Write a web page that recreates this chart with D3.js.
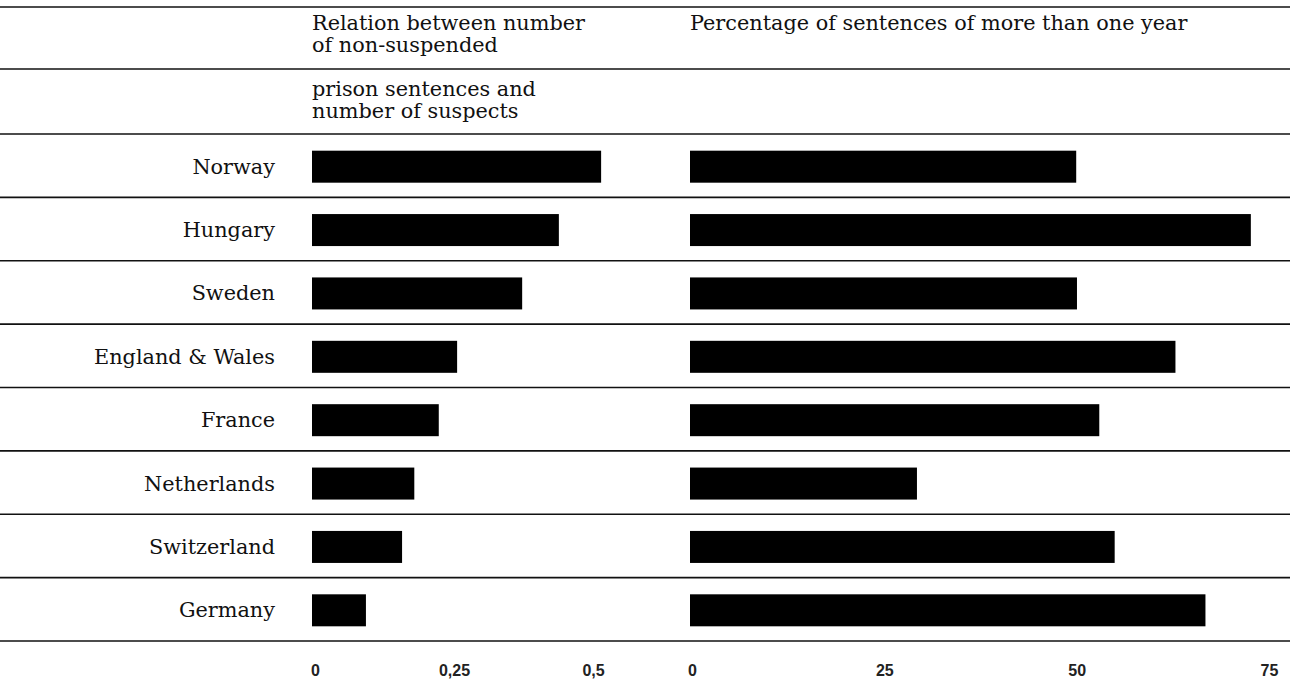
<!DOCTYPE html>
<html>
<head>
<meta charset="utf-8">
<script src="https://cdn.jsdelivr.net/npm/d3@7"></script>
<style>
  body { margin: 0; background: #fff; }
  svg { display: block; }
  .lbl { font-family: "DejaVu Serif", serif; font-size: 20.8px; fill: #111; }
</style>
</head>
<body>
<svg id="chart" width="1298" height="685"></svg>
<script>
const countries = ["Norway", "Hungary", "Sweden", "England & Wales", "France", "Netherlands", "Switzerland", "Germany"];
const ratioValues = [0.52, 0.444, 0.378, 0.261, 0.228, 0.184, 0.162, 0.097];
const longSentencePct = [50.2, 72.9, 50.3, 63.1, 53.2, 29.5, 55.2, 67.0];
const ratioTicks = [0, 0.25, 0.5];
const pctTicks = [0, 25, 50, 75];
const ratioTitle = ["Relation between number", "of non-suspended", "prison sentences and", "number of suspects"];
const pctTitle = "Percentage of sentences of more than one year";

const svg = d3.select("#chart");
const lineEnd = 1290;

const y = d3.scaleBand()
  .domain(countries)
  .range([134, 641]);

const xL = d3.scaleLinear().domain([0, 0.5]).range([312, 590]);
const xR = d3.scaleLinear().domain([0, 75]).range([690, 1267]);

const barH = 32;

/* ------------------ rules ------------------ */

const ruleYs = [7, 69, ...countries.map(c => y(c)), y.range()[1]];

svg.append("g")
  .selectAll("line")
  .data(ruleYs)
  .join("line")
  .attr("x1", 0)
  .attr("x2", lineEnd)
  .attr("y1", d => d)
  .attr("y2", d => d)
  .attr("stroke", "#111")
  .attr("stroke-width", 1.6);

/* ------------------ headers ------------------ */

const hdr = svg.append("g");
[30, 52].forEach((by, i) =>
  hdr.append("text").attr("class", "lbl")
    .attr("x", xL(0)).attr("y", by).text(ratioTitle[i])
);
[96, 118].forEach((by, i) =>
  hdr.append("text").attr("class", "lbl")
    .attr("x", xL(0)).attr("y", by).text(ratioTitle[i + 2])
);
hdr.append("text").attr("class", "lbl")
  .attr("x", xR(0)).attr("y", 30).text(pctTitle);

/* ------------------ row labels ------------------ */

svg.append("g")
  .selectAll("text")
  .data(countries)
  .join("text")
  .attr("class", "lbl")
  .attr("x", 275)
  .attr("y", d => y(d) + y.bandwidth() / 2 + 8)
  .attr("text-anchor", "end")
  .text(d => d);

/* ------------------ bars ------------------ */

svg.append("g")
  .selectAll("rect")
  .data(countries)
  .join("rect")
  .attr("x", xL(0))
  .attr("y", d => y(d) + (y.bandwidth() - barH) / 2 + 1)
  .attr("width", (d, i) => xL(ratioValues[i]) - xL(0))
  .attr("height", barH)
  .attr("fill", "#000");

svg.append("g")
  .selectAll("rect")
  .data(countries)
  .join("rect")
  .attr("x", xR(0))
  .attr("y", d => y(d) + (y.bandwidth() - barH) / 2 + 1)
  .attr("width", (d, i) => xR(longSentencePct[i]) - xR(0))
  .attr("height", barH)
  .attr("fill", "#000");

/* ------------------ axes ------------------ */

const fmtL = d => d3.format("~g")(d).replace(".", ",");

function styleAxis(g) {
  g.select(".domain").remove();
  g.selectAll("text")
    .attr("fill", "#222")
    .style("font-family", "'Liberation Sans Narrow', 'Liberation Sans', sans-serif")
    .style("font-size", "16px")
    .style("font-weight", "600");
}

svg.append("g")
  .attr("transform", "translate(3,662)")
  .call(d3.axisBottom(xL).tickValues(ratioTicks).tickFormat(fmtL).tickSize(0))
  .call(styleAxis);

svg.append("g")
  .attr("transform", "translate(2,662)")
  .call(d3.axisBottom(xR).tickValues(pctTicks).tickFormat(d3.format("d")).tickSize(0))
  .call(styleAxis);
</script>
</body>
</html>
